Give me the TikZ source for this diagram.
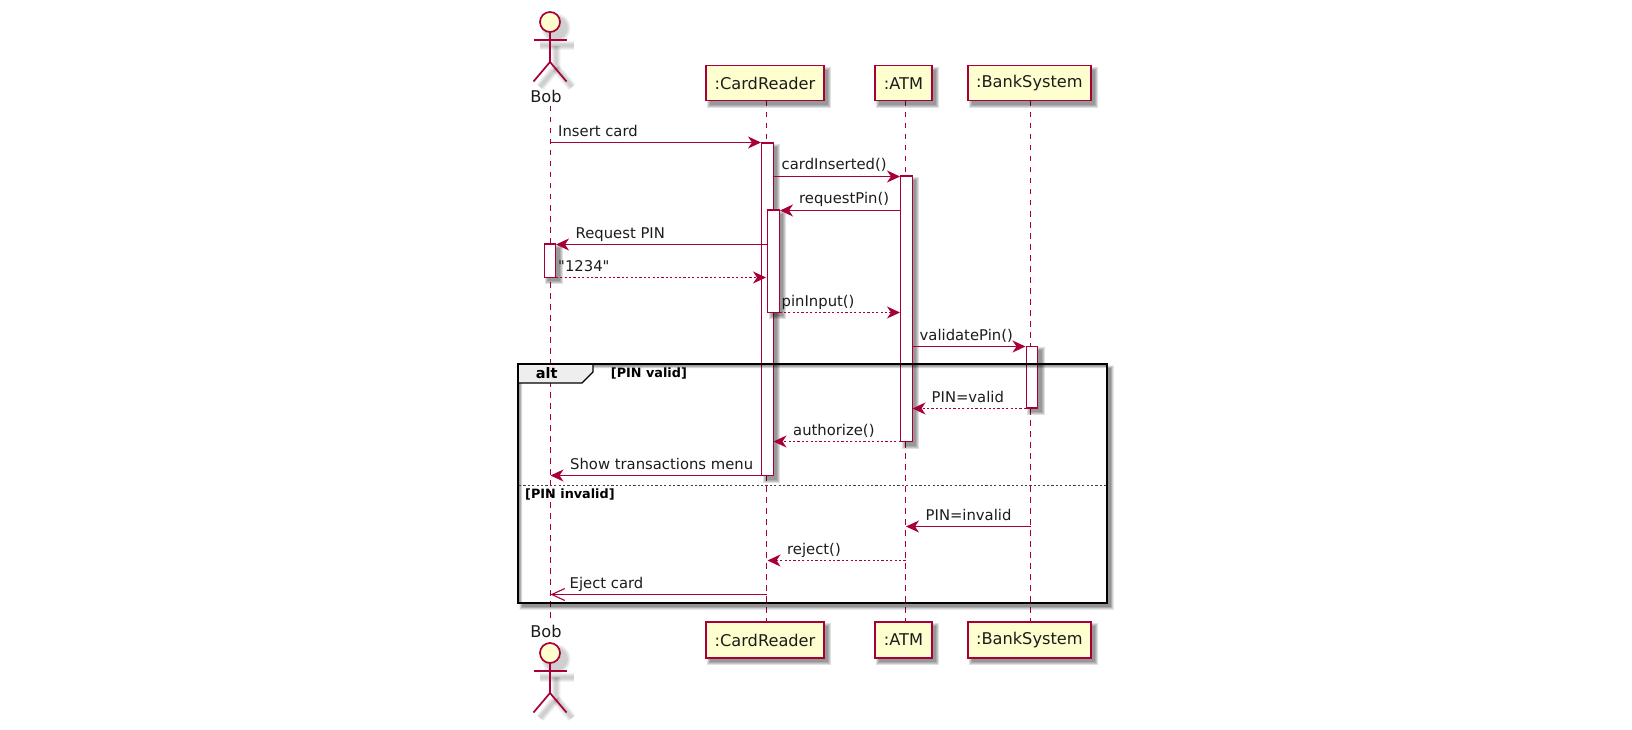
\documentclass[tikz,border=0pt]{standalone}
\usepackage{fontspec}
\setmainfont{DejaVu Sans}[Ligatures=TeXOff]
\usetikzlibrary{arrows.meta}
\definecolor{umlline}{HTML}{A80036}
\definecolor{umlfill}{HTML}{FEFECE}
\definecolor{umltext}{HTML}{1C1C1C}
\definecolor{tabfill}{HTML}{EEEEEE}
\tikzset{
  x=1pt,y=-1pt,
  msgfont/.style={font=\fontsize{14.8}{16}\selectfont,text=umltext,inner sep=0pt,anchor=base west},
  partbox/.style={draw=umlline,fill=umlfill,line width=1.6pt,inner sep=0pt,font=\fontsize{16.2}{18}\selectfont,text=umltext},
  actbar/.style={draw=umlline,fill=white,line width=1.2pt,inner sep=0pt,minimum width=11.5pt},
  shadowlayer/.style={fill=black,draw=none,fill opacity=#1},
  lifeline/.style={draw=umlline,line width=1.2pt,dash pattern=on 5.5pt off 5.5pt},
  msgsolid/.style={draw=umlline,line width=1.2pt,-{Stealth[length=13pt,width=12pt,inset=4pt,fill=umlline]}},
  msgdash/.style={msgsolid,dash pattern=on 2.2pt off 2.2pt},
  msgopen/.style={draw=umlline,line width=1.2pt,-{Straight Barb[length=13pt,width=12pt,line width=1.1pt]}},
  actorline/.style={draw=umlline,line width=1.7pt},
  framebox/.style={draw=black,line width=2.2pt},
  groupfont/.style={font=\fontsize{12.8}{14}\bfseries\selectfont,text=black,inner sep=0pt,anchor=base west},
}
% soft shadow for a rectangle, given by corners
\newcommand{\softshadow}[4]{%
  \foreach \gr in {3.0,2.0,1.0,0.0}{%
    \fill[shadowlayer=0.12] (#1+4-\gr,#2+4-\gr) rectangle (#3+4+\gr,#4+4+\gr);%
  }%
}
\newcommand{\actorshadow}[2]{%
  \begin{scope}[shift={(#1,#2)}]
    \foreach \gr/\wd in {9/0.05,7/0.05,5/0.05,3/0.05}{%
      \fill[black,opacity=\wd] (6,6) circle ({10+\gr/2});
      \draw[black,opacity=\wd,line width=\gr pt,line cap=butt] (-10,24) -- (24,24);
      \draw[black,opacity=\wd,line width=\gr pt,line cap=butt] (6,24) -- (6,46) -- (-10,65);
      \draw[black,opacity=\wd,line width=\gr pt,line cap=butt] (6,46) -- (22,65);
    }
  \end{scope}%
}
\newcommand{\actorfig}[2]{%
  \begin{scope}[shift={(#1,#2)}]
    \draw[actorline,fill=umlfill] (0,0) circle (10);
    \draw[actorline] (-16.5,18) -- (16.5,18);
    \draw[actorline] (0,10) -- (0,40) -- (-16.5,59.5);
    \draw[actorline] (0,40) -- (16.5,59.5);
  \end{scope}%
}
\begin{document}
\begin{tikzpicture}
\useasboundingbox (0,0) rectangle (1632,730);
% lifeline ends
\coordinate (bobT) at (550.5,106);
\coordinate (bobB) at (550.5,623);
\coordinate (crT) at (766.5,101);
\coordinate (crB) at (766.5,622);
\coordinate (atmT) at (905.5,101);
\coordinate (atmB) at (905.5,622);
\coordinate (bsT) at (1030.5,101);
\coordinate (bsB) at (1030.5,622);
\draw[lifeline] (bobT) -- (bobB);
\draw[lifeline] (crT) -- (crB);
\draw[lifeline] (atmT) -- (atmB);
\draw[lifeline] (bsT) -- (bsB);
% actors
\actorshadow{550}{22}
\actorshadow{550}{653}
\actorfig{550}{22}
\actorfig{550}{653}
\node[font=\fontsize{16.2}{18}\selectfont,text=umltext,inner sep=0pt,anchor=base] (bobTop) at (546,102.5) {Bob};
\node[font=\fontsize{16.2}{18}\selectfont,text=umltext,inner sep=0pt,anchor=base] (bobBot) at (546,637.5) {Bob};
% participant boxes
\softshadow{706}{65.7}{824}{100.7}
\softshadow{875}{65.7}{932}{100.7}
\softshadow{968}{65.7}{1090.7}{100.7}
\softshadow{706}{622}{824}{658}
\softshadow{875}{622}{932}{658}
\softshadow{968}{622}{1090.7}{658}
\node[partbox,minimum width=118pt,minimum height=35pt] (crTop) at (765,83.2) {:CardReader};
\node[partbox,minimum width=57pt,minimum height=35pt] (atmTop) at (903.5,83.2) {:ATM};
\node[partbox,minimum width=122.7pt,minimum height=35pt] (bsTop) at (1029.35,83.2) {:BankSystem};
\node[partbox,minimum width=118pt,minimum height=36pt] (crBot) at (765,640) {:CardReader};
\node[partbox,minimum width=57pt,minimum height=36pt] (atmBot) at (903.5,640) {:ATM};
\node[partbox,minimum width=122.7pt,minimum height=36pt] (bsBot) at (1029.35,640) {:BankSystem};
% activation bars
\softshadow{761.7}{143}{773}{475.7}
\softshadow{900.7}{176}{912}{441.7}
\softshadow{1026}{346.3}{1038}{408}
\node[actbar,minimum height=332.7pt] (acA) at (767.35,309.35) {};
\node[actbar,minimum height=265.7pt] (acB) at (906.35,308.85) {};
\softshadow{767.7}{210}{779.3}{312.3}
\node[actbar,minimum height=102.3pt] (acC) at (773.5,261.15) {};
\softshadow{544}{244}{555.7}{277.3}
\node[actbar,minimum height=33.3pt] (acD) at (549.85,260.65) {};
\node[actbar,minimum height=61.7pt] (acE) at (1032,377.15) {};
% message end points
\coordinate (m1a) at (550.5,142.5);
\coordinate (m1b) at (761,142.5);
\coordinate (m2a) at (773,176.5);
\coordinate (m2b) at (900,176.5);
\coordinate (m3a) at (900.7,210.5);
\coordinate (m3b) at (780,210.5);
\coordinate (m4a) at (767.7,244.5);
\coordinate (m4b) at (556,244.5);
\coordinate (m5a) at (555.7,277.5);
\coordinate (m5b) at (766,277.5);
\coordinate (m6a) at (779.3,312.5);
\coordinate (m6b) at (900,312.5);
\coordinate (m7a) at (912,346.5);
\coordinate (m7b) at (1025.5,346.5);
\coordinate (m8a) at (1026,408.5);
\coordinate (m8b) at (912.5,408.5);
\coordinate (m9a) at (900.7,441.5);
\coordinate (m9b) at (773.5,441.5);
\coordinate (m10a) at (761.7,475.5);
\coordinate (m10b) at (550.5,475.5);
\coordinate (m11a) at (1030.5,526.5);
\coordinate (m11b) at (906,526.5);
\coordinate (m12a) at (905.5,560.5);
\coordinate (m12b) at (767.5,560.5);
\coordinate (m13a) at (766.5,594.5);
\coordinate (m13b) at (550.5,594.5);
\draw[msgsolid] (m1a) -- (m1b);
\draw[msgsolid] (m2a) -- (m2b);
\draw[msgsolid] (m3a) -- (m3b);
\draw[msgsolid] (m4a) -- (m4b);
\draw[msgdash] (m5a) -- (m5b);
\draw[msgdash] (m6a) -- (m6b);
\draw[msgsolid] (m7a) -- (m7b);
\draw[msgdash] (m8a) -- (m8b);
\draw[msgdash] (m9a) -- (m9b);
\draw[msgsolid] (m10a) -- (m10b);
\draw[msgsolid] (m11a) -- (m11b);
\draw[msgdash] (m12a) -- (m12b);
\draw[msgopen] (m13a) -- (m13b);
% message labels
\node[msgfont] (l1) at (558,136.5) {Insert card};
\node[msgfont] (l2) at (781.5,170) {cardInserted()};
\node[msgfont] (l3) at (799,204) {requestPin()};
\node[msgfont] (l4) at (575.5,238) {Request PIN};
\node[msgfont] (l5) at (558,271.5) {"1234"};
\node[msgfont] (l6) at (781.5,306) {pinInput()};
\node[msgfont] (l7) at (919.5,340) {validatePin()};
\node[msgfont] (l8) at (931.5,402) {PIN=valid};
\node[msgfont] (l9) at (793,435.5) {authorize()};
\node[msgfont] (l10) at (570,469.5) {Show transactions menu};
\node[msgfont] (l11) at (925.5,520.5) {PIN=invalid};
\node[msgfont] (l12) at (787,554.5) {reject()};
\node[msgfont] (l13) at (569.5,588) {Eject card};
% alt frame
\begin{scope}[even odd rule]
  \foreach \gr in {2.5,1.2,0.0}{%
    \fill[shadowlayer=0.17] (522-\gr,368-\gr) rectangle (1111+\gr,607+\gr) (518,364) rectangle (1106.7,603);
  }
\end{scope}
\draw[fill=tabfill,draw=black,line width=1.2pt] (518,364) -- (593,364) -- (593,372) -- (582,383) -- (518,383) -- cycle;
\node[font=\fontsize{14.5}{16}\bfseries\selectfont,text=black,inner sep=0pt,anchor=base] (altTag) at (546.7,378) {alt};
\draw[framebox] (518,364) rectangle (1106.7,603);
\coordinate (sepL) at (519,485.5);
\coordinate (sepR) at (1105.7,485.5);
\draw[black!75,line width=1.2pt,dash pattern=on 2.2pt off 2.2pt] (sepL) -- (sepR);
\node[groupfont] (g1) at (610.7,377.5) {[PIN valid]};
\node[groupfont] (g2) at (525,498) {[PIN invalid]};
\end{tikzpicture}
\end{document}
